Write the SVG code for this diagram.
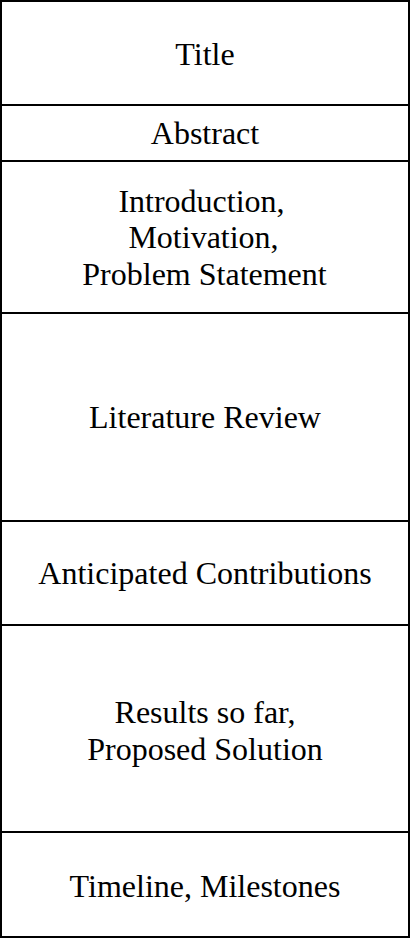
<svg xmlns="http://www.w3.org/2000/svg" width="412" height="940" viewBox="0 0 412 940">
<style>
.box{fill:#ffffff;stroke:#000000;stroke-width:2}
.lbl{font-family:"Liberation Serif","Times New Roman",serif;font-size:32px;fill:#000000;text-anchor:middle}
</style>
<rect x="0" y="0" width="412" height="940" fill="#ffffff"/>
<g id="title"><rect class="box" x="1" y="1" width="408" height="104"/><text class="lbl" x="205" y="65">Title</text></g>
<g id="abstract"><rect class="box" x="1" y="105" width="408" height="56"/><text class="lbl" x="205" y="144">Abstract</text></g>
<g id="introduction"><rect class="box" x="1" y="161" width="408" height="152"/><text class="lbl" x="201.5" y="211.5">Introduction,</text><text class="lbl" x="203.5" y="248.3">Motivation,</text><text class="lbl" x="204.5" y="285">Problem Statement</text></g>
<g id="literature"><rect class="box" x="1" y="313" width="408" height="208"/><text class="lbl" x="205" y="428.3">Literature Review</text></g>
<g id="contributions"><rect class="box" x="1" y="521" width="408" height="104"/><text class="lbl" x="205" y="584">Anticipated Contributions</text></g>
<g id="results"><rect class="box" x="1" y="625" width="408" height="207"/><text class="lbl" x="205" y="723">Results so far,</text><text class="lbl" x="205" y="760">Proposed Solution</text></g>
<g id="timeline"><rect class="box" x="1" y="832" width="408" height="105"/><text class="lbl" x="205" y="896.7">Timeline, Milestones</text></g>
<g id="connectors"></g>
</svg>
